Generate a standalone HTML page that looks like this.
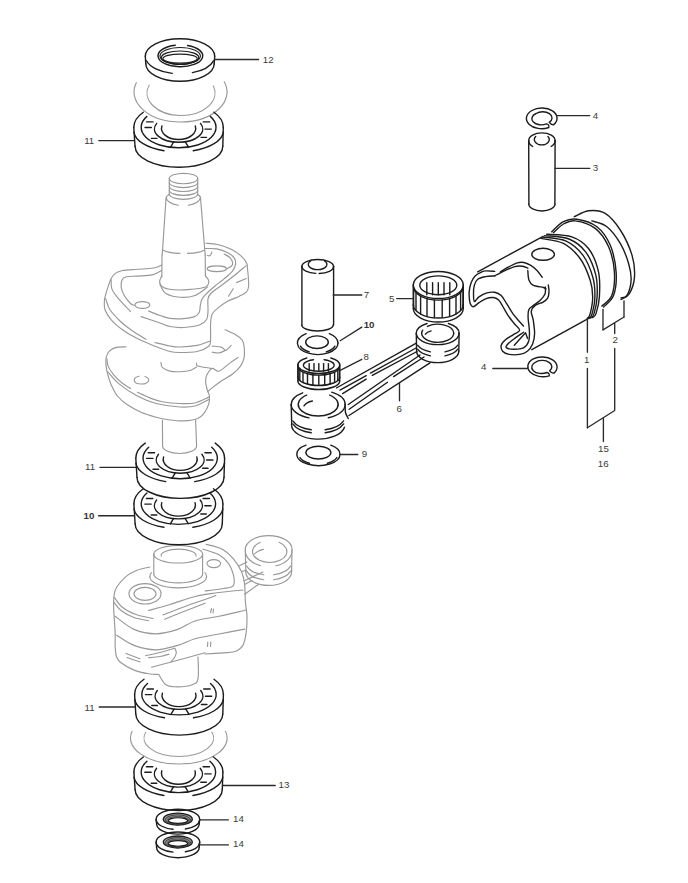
<!DOCTYPE html>
<html><head><meta charset="utf-8"><style>
html,body{margin:0;padding:0;background:#fff;}
svg{display:block;}
text{font-family:"Liberation Sans",sans-serif;}
</style></head><body>
<svg width="688" height="883" viewBox="0 0 688 883" fill="none" stroke-linecap="round" stroke-linejoin="round">
<rect width="688" height="883" fill="#fff"/>
<path d="M145.3 56.3A34.7 17.5 0 0 1 180 38.8A34.7 17.5 0 0 1 214.7 56.3" stroke="#1c1c1c" stroke-width="1.4"/>
<path d="M172.2 73.4A34.7 17.5 0 0 1 146.5 60.8" stroke="#1c1c1c" stroke-width="1.4"/>
<path d="M213.5 60.8A34.7 17.5 0 0 1 192.4 72.6" stroke="#1c1c1c" stroke-width="1.4"/>
<path d="M145.3 56.3L145.8 63.8" stroke="#1c1c1c" stroke-width="1.4"/>
<path d="M214.7 56.3L214.2 63.8" stroke="#1c1c1c" stroke-width="1.4"/>
<path d="M214.2 63.8A34.2 17.5 0 0 1 180 81.3A34.2 17.5 0 0 1 145.8 63.8" stroke="#1c1c1c" stroke-width="1.4"/>
<path d="M187.6 45.5A22.3 10.9 0 0 1 179.1 66.7A22.3 10.9 0 0 1 175.3 45.2" stroke="#1c1c1c" stroke-width="1.4"/>
<ellipse cx="180.2" cy="56" rx="20.2" ry="8.5" stroke="#1c1c1c" stroke-width="1.15"/>
<ellipse cx="180.1" cy="57.5" rx="18.7" ry="6.5" stroke="#1c1c1c" stroke-width="1.15"/>
<ellipse cx="180.1" cy="58.6" rx="17.2" ry="4.5" stroke="#1c1c1c" stroke-width="1.15"/>
<path d="M136.3 82.7A46.5 30 0 0 0 181.3 122A46.5 30 0 0 0 224.2 81.7" stroke="#989898" stroke-width="1.15"/>
<path d="M149.1 85.3A34 22.5 0 0 0 180.4 115.5A34 22.5 0 0 0 213.3 86" stroke="#989898" stroke-width="1.15"/>
<path d="M133.8 127.3A44.8 24.5 0 0 1 143.3 112.2" stroke="#1c1c1c" stroke-width="1.4"/>
<path d="M213.9 112.2A44.8 24.5 0 0 1 223.3 127.3" stroke="#1c1c1c" stroke-width="1.4"/>
<path d="M133.8 127.3L135 146.2" stroke="#1c1c1c" stroke-width="1.4"/>
<path d="M223.3 127.3L222.8 146.2" stroke="#1c1c1c" stroke-width="1.4"/>
<path d="M164 150.7A44.8 21 0 0 1 134 132.3" stroke="#1c1c1c" stroke-width="1.4"/>
<path d="M223.2 132.3A44.8 21 0 0 1 193.2 150.7" stroke="#1c1c1c" stroke-width="1.4"/>
<path d="M222.8 146.2A43.9 21 0 0 1 178.9 167.2A43.9 21 0 0 1 135.1 146.2" stroke="#1c1c1c" stroke-width="1.4"/>
<path d="M146.9 116.4A37.4 20.5 0 0 0 178.6 147.8A37.4 20.5 0 0 0 210.3 116.4" stroke="#1c1c1c" stroke-width="1.4"/>
<path d="M156.7 123.4A24.2 13.3 0 0 0 178.6 142.3A24.2 13.3 0 0 0 200.5 123.4" stroke="#1c1c1c" stroke-width="1.4"/>
<path d="M173.7 142L170.4 147.3" stroke="#1c1c1c" stroke-width="1.4"/>
<path d="M185.3 141.8L188.5 147.1" stroke="#1c1c1c" stroke-width="1.4"/>
<path d="M161.9 126A17.1 11.2 0 0 0 178.6 139.5A17.1 11.2 0 0 0 195.3 126" stroke="#1c1c1c" stroke-width="1.4"/>
<path d="M146.6 121.9L153 121.9" stroke="#1c1c1c" stroke-width="1.4"/>
<path d="M145 127.5L151.4 127.5" stroke="#1c1c1c" stroke-width="1.4"/>
<path d="M151.4 138.4L157 138.4" stroke="#1c1c1c" stroke-width="1.4"/>
<path d="M203.3 121.9L209.7 121.9" stroke="#1c1c1c" stroke-width="1.4"/>
<path d="M205 129.1L211.3 129.1" stroke="#1c1c1c" stroke-width="1.4"/>
<path d="M201 137.4L206.5 137.4" stroke="#1c1c1c" stroke-width="1.4"/>
<path d="M161.7 265C160.3 265.5 157.6 267.3 153.6 268C149.6 268.7 142.6 268.9 137.4 269.3C132.2 269.7 126.1 269.8 122.4 270.5C118.7 271.2 116.9 272.2 115 273.6C113.1 275 112.2 276.7 111.2 278.6C110.2 280.5 109.6 282.2 108.7 284.9C107.8 287.6 106.3 292.1 105.6 294.8C104.9 297.5 104.5 298.5 104.4 301C104.3 303.5 103.9 306.7 105 309.8C106.1 312.9 108.3 316.5 111.2 319.8C114.1 323.1 118 326.6 122.4 329.7C126.8 332.8 132 335.9 137.4 338.6C142.8 341.4 149.4 344.1 154.8 346.2C160.2 348.3 165.8 350.4 170 351.5C174.2 352.6 175.5 352.5 180 352.5C184.5 352.5 192.5 352.4 197.2 351.5C201.9 350.6 205.8 348.6 208 346.8C210.2 345.1 210.1 344.9 210.5 341C210.9 337.1 210.3 327.9 210.6 323.4C210.9 318.9 211 316.4 212.2 313.9C213.4 311.4 215.1 310.4 217.6 308.4C220.1 306.3 223.5 303.6 227.1 301.6C230.7 299.6 236.2 297.8 239.4 296.2C242.6 294.6 244.7 293.7 246.2 292.1C247.7 290.5 248.3 289.4 248.6 286.7C248.9 284 248.4 278.8 248.2 275.8C248 272.9 247.7 271 247.5 269C247.3 267 247.7 265.6 246.8 263.6C245.9 261.6 244.6 259.2 242 256.8C239.4 254.4 235.3 251.4 231.2 249.3C227.1 247.2 221.8 245.5 217.6 244.5C213.4 243.5 207.9 243.4 206 243.2" stroke="#989898" stroke-width="1.15"/>
<path d="M105.6 298.6C106.3 300.5 107.6 306.1 110 309.8C112.4 313.5 116.5 317.6 120 321C123.5 324.4 126.8 326.9 131.2 330C135.5 333.1 143.6 337.8 146.1 339.3" stroke="#989898" stroke-width="1.15"/>
<path d="M154.8 342.5C157.3 343.1 165.8 345.2 170 346C174.2 346.8 175.5 347.1 180 347C184.5 346.9 192.3 346.3 197.2 345.4C202.1 344.4 207.4 342 209.4 341.3" stroke="#989898" stroke-width="1.15"/>
<path d="M161.7 270.5C160.1 271.2 156.4 274 152.3 274.9C148.2 275.8 141.8 275.8 137.4 276.1C133.1 276.4 128.8 276.2 126.2 276.8C123.6 277.4 122.8 278.1 122 279.9C121.2 281.7 120.9 284.9 121.2 287.4C121.5 289.9 122.5 292.3 124 295C125.5 297.7 128.8 301.8 130.5 303.5C132.2 305.2 133.8 305.2 134.5 305.5" stroke="#989898" stroke-width="1.15"/>
<path d="M148.6 311C150.5 311.8 156.4 314.3 160 315.5C163.6 316.7 166.1 317.9 170 318.4C173.9 318.9 179.5 318.9 183.6 318.6C187.7 318.3 191.9 317.6 194.5 316.6C197.1 315.6 198.2 314.4 199.2 312.5C200.2 310.6 199.9 307.2 200.4 305C200.9 302.8 201 300.9 202 299C203 297.1 204.1 296 206.3 293.8C208.5 291.6 212.1 288.4 215 286C217.9 283.6 220.9 281.6 223.8 279.1C226.7 276.6 230.5 273.7 232.5 271.2C234.5 268.7 235.3 266.4 235.6 264.2C235.9 262 235.5 260 234.3 258.1C233.1 256.2 231.1 254.4 228.2 252.9C225.3 251.4 220.6 249.6 216.8 248.9C213 248.2 207.4 248.6 205.5 248.5" stroke="#989898" stroke-width="1.15"/>
<path d="M111.2 279.9C111.3 281.3 110.8 285.7 111.8 288.6C112.8 291.5 114.3 293.5 117.4 297.3C120.5 301.1 128.3 309.2 130.5 311.6" stroke="#989898" stroke-width="1.15"/>
<path d="M141.1 316.6C144.2 317.7 155.2 321.4 160 323C164.8 324.6 166.1 325.8 170 326.5C173.9 327.2 178.6 327.8 183.6 327.5C188.6 327.2 196.1 326.2 199.9 324.8C203.8 323.4 205.3 321.6 206.7 319.3C208 317 207.8 314.6 208 311.2C208.2 307.8 207.5 301.9 208 299C208.5 296.1 208.5 295.8 210.8 293.5C213.1 291.2 217.8 288.2 221.7 285.3C225.5 282.4 229.8 279.1 233.9 275.8C238 272.5 244.1 267.3 246.2 265.6" stroke="#989898" stroke-width="1.15"/>
<ellipse cx="142.4" cy="305" rx="7.5" ry="3.4" stroke="#989898" stroke-width="1.15"/>
<ellipse cx="216.8" cy="268.8" rx="9.6" ry="2.9" stroke="#989898" stroke-width="1.15"/>
<path d="M224.2 254.1C225.1 254.7 228.5 256.2 229.9 257.6C231.3 259 232.2 261 232.5 262.4C232.8 263.8 232.6 264.9 231.6 266C230.6 267.1 227.3 268.5 226.4 269" stroke="#989898" stroke-width="1.15"/>
<path d="M207.3 255.4C207.7 255.5 208.8 256 209.5 255.8C210.2 255.6 210.9 254.6 211.3 254C211.7 253.4 211.7 252.3 211.8 252" stroke="#989898" stroke-width="1.15"/>
<path d="M236.6 282.6L246.2 278.5" stroke="#989898" stroke-width="1.15"/>
<path d="M228.5 296.2L233.2 288.7" stroke="#989898" stroke-width="1.15"/>
<path d="M161.7 276C161.3 277 159.3 280.1 159.6 282C159.9 283.9 161.1 286.1 163.6 287.4C166.1 288.7 170.3 289.5 174.8 289.8C179.3 290.1 185.3 289.9 190.4 289.4C195.5 288.9 202.3 288.4 205.4 287C208.5 285.6 208.8 283.1 208.8 281.2C208.8 279.3 206 276.7 205.4 275.8" stroke="#989898" stroke-width="1.15"/>
<path d="M159.8 284C160.8 285.6 162.6 291.4 166 293.6C169.4 295.8 175.2 297 180 297.3C184.8 297.6 190.4 297.2 195 295.5C199.6 293.8 205.3 288.4 207.4 287" stroke="#989898" stroke-width="1.15"/>
<path d="M126.2 346.8C124.5 346.9 119 346.7 116.2 347.4C113.4 348.1 111 349.5 109.3 351.2C107.6 352.9 106.8 355.1 106.2 357.4C105.7 359.7 105.8 362.2 106 364.9C106.2 367.6 106.6 370.3 107.5 373.6C108.4 376.9 109.5 381.1 111.2 384.8C112.9 388.5 114.7 392.7 117.4 396C120.1 399.3 123.5 402.1 127.4 404.8C131.3 407.5 136.3 410.1 141.1 412.2C145.9 414.3 151.5 415.9 156.1 417.2C160.7 418.4 163.9 419.1 168.5 419.7C173.1 420.3 178.8 421 183.6 420.9C188.4 420.8 193.8 420.1 197.2 418.8C200.6 417.6 202.1 415.9 204 413.4C205.9 410.9 207.9 406.8 208.8 403.9C209.7 400.9 209.6 398 209.4 395.7C209.2 393.4 208 392.6 207.4 390.3C206.8 388 205.7 384.6 205.6 382.1C205.5 379.6 205.6 377.6 206.7 375.3C207.8 373 210.1 369.2 212.2 368.5C214.2 367.8 216.1 372.1 219 371.2C221.9 370.3 226.6 365.4 229.8 363.1C233 360.8 236.6 358.5 238 357.6" stroke="#989898" stroke-width="1.15"/>
<path d="M212.2 368.5C210.8 368.3 206.5 367.6 204 367.2C201.5 366.8 198.4 366.5 197.2 365.8C195.9 365.1 196.6 363.6 196.5 363.1" stroke="#989898" stroke-width="1.15"/>
<path d="M225.1 329.8C226.8 330.6 232.5 332.8 235.3 334.5C238.1 336.2 240.6 337.9 242.1 340C243.6 342.1 243.8 343.9 244.1 346.8C244.4 349.7 244.7 354.4 244.1 357.6C243.5 360.8 242.6 363.1 240.7 365.8C238.8 368.5 235.8 371.5 232.6 374C229.4 376.5 225.3 378.3 221.7 380.8C218.1 383.3 213.1 387.1 210.8 388.9C208.5 390.7 208.5 391.2 208 391.6" stroke="#989898" stroke-width="1.15"/>
<path d="M161 362.4C161.2 363.2 160.8 365.9 162.3 367.4C163.8 368.8 166.9 370.4 169.8 371.1C172.8 371.8 176.6 371.8 180 371.7C183.4 371.6 187.2 371.3 190 370.5C192.8 369.7 195.4 367.6 196.5 367" stroke="#989898" stroke-width="1.15"/>
<path d="M137.4 392.3C139.5 393.2 145.7 396.3 149.8 397.9C154 399.5 157.3 400.8 162.3 401.7C167.3 402.6 174.6 403.3 180 403.5C185.4 403.7 190.2 404.1 195 403C199.8 401.9 206.5 398.1 208.8 397.1" stroke="#989898" stroke-width="1.15"/>
<path d="M108 372C109.8 373.9 113.8 379.6 118.7 383.6C123.6 387.6 131.2 392.7 137.4 396C143.6 399.3 149 401.7 156.1 403.5C163.2 405.3 173.5 406.6 180 407C186.5 407.4 190.2 407.2 195 406C199.8 404.8 206.5 400.6 208.8 399.5" stroke="#989898" stroke-width="1.15"/>
<path d="M106.9 358.7C107.1 359.9 107 363.4 108.1 366.1C109.2 368.8 111.5 372.2 113.7 374.9C115.9 377.6 118.4 380 121.2 382.3C124 384.6 128.9 387.6 130.5 388.6" stroke="#989898" stroke-width="1.15"/>
<path d="M145 376.5A7 4 0 0 1 140.9 384A7 4 0 0 1 139.1 376.2" stroke="#989898" stroke-width="1.15"/>
<path d="M212.2 346.1C213.8 346.3 219.4 346.7 221.7 347.4C224 348.1 224.2 350.5 225.8 350.2C227.4 349.9 230.3 346.2 231.2 345.4" stroke="#989898" stroke-width="1.15"/>
<path d="M212.2 352.2C213.3 352.3 216.7 353.2 219 352.9C221.3 352.6 224.7 350.6 225.8 350.2" stroke="#989898" stroke-width="1.15"/>
<path d="M162.4 420L162.6 446" stroke="#989898" stroke-width="1.15"/>
<path d="M195.6 420L196.6 446" stroke="#989898" stroke-width="1.15"/>
<path d="M196.6 446A17 7.5 0 0 1 179.6 453.5A17 7.5 0 0 1 162.6 446" stroke="#989898" stroke-width="1.15"/>
<ellipse cx="178.2" cy="554.2" rx="24.4" ry="8.8" stroke="#989898" stroke-width="1.15"/>
<path d="M161.2 556.1A17.5 6.4 0 0 1 178.6 549.1A17.5 6.4 0 0 1 196 556.1" stroke="#989898" stroke-width="1.15"/>
<path d="M153.8 554.2L153.8 574" stroke="#989898" stroke-width="1.15"/>
<path d="M202.6 554.2L202.6 574" stroke="#989898" stroke-width="1.15"/>
<path d="M202.6 574A24.4 8.8 0 0 1 178.2 582.8A24.4 8.8 0 0 1 153.8 574" stroke="#989898" stroke-width="1.15"/>
<path d="M206.6 576.5A28.4 11.3 0 0 1 178.2 587.8A28.4 11.3 0 0 1 149.8 576.5" stroke="#989898" stroke-width="1.15"/>
<path d="M149.8 576.5A28.4 11.3 0 0 1 151.5 572.6" stroke="#989898" stroke-width="1.15"/>
<path d="M204.9 572.6A28.4 11.3 0 0 1 206.6 576.5" stroke="#989898" stroke-width="1.15"/>
<path d="M149.8 567C147.7 567.5 141 568.6 137 570.2C133 571.8 129.2 573.8 125.8 576.6C122.4 579.5 118.6 584.1 116.6 587.3C114.6 590.5 114.5 592.4 114 596C113.5 599.6 113.6 604.9 113.7 609C113.8 613.1 114.2 616.3 114.4 620.7C114.7 625.1 115.1 630.8 115.2 635.2C115.3 639.6 115 643.3 115.2 646.9C115.4 650.5 115.6 654.4 116.6 657C117.6 659.6 118.1 660.6 121 662.8C123.9 665 129.4 668.3 134 670.1C138.6 671.9 144.5 673.1 148.6 673.8C152.7 674.5 157.1 674.4 158.8 674.5" stroke="#989898" stroke-width="1.15"/>
<path d="M206.2 544.4C208.9 545.2 217.7 546.8 222.2 549.2C226.7 551.6 230.2 555.1 233.4 558.8C236.6 562.5 239.5 567.3 241.4 571.6C243.3 575.9 243.9 579.3 244.6 584.4C245.3 589.5 245 596.7 245.4 602C245.8 607.3 246.9 611.2 247 616.3C247.1 621.3 246.9 627.5 246.2 632.3C245.5 637.1 244.9 641.9 243 645.1C241.1 648.3 239 650.2 235 651.5C231 652.8 224 652.7 219 653.1C214 653.5 207.3 653.9 205 654" stroke="#989898" stroke-width="1.15"/>
<path d="M203 549.2C205.7 550.1 214.7 552.4 219 554.8C223.3 557.2 226.2 560.3 228.6 563.6C231 566.9 232.5 571.6 233.4 574.8C234.3 578 234.5 580.8 234.2 582.8C233.9 584.8 234.3 585.7 231.8 586.8C229.3 587.9 223.5 588.5 219 589.2C214.5 589.9 207.3 590.7 205 591" stroke="#989898" stroke-width="1.15"/>
<ellipse cx="213.8" cy="563.6" rx="6.8" ry="4" stroke="#989898" stroke-width="1.15"/>
<ellipse cx="145" cy="593.8" rx="16" ry="10.2" stroke="#989898" stroke-width="1.15"/>
<ellipse cx="145" cy="593.8" rx="11" ry="6.5" stroke="#989898" stroke-width="1.15"/>
<path d="M114.4 597.4C115.7 599 118.4 604.1 122 607C125.6 609.9 130.8 612.6 136 614.5C141.2 616.4 150.2 617.8 153 618.5" stroke="#989898" stroke-width="1.15"/>
<path d="M113.7 601.8C114.9 603.2 117.6 607.9 121 610.5C124.4 613.1 129.4 615.8 134 617.5C138.6 619.2 146.2 620.2 148.6 620.7" stroke="#989898" stroke-width="1.15"/>
<path d="M148.6 610.5C152.2 609.5 162.3 606.8 170 604.5C177.7 602.2 187.5 598.4 195 596.5C202.5 594.6 207 594.1 215 593C223 591.9 238.3 590.5 243 590" stroke="#989898" stroke-width="1.15"/>
<path d="M163.1 614.9C166.8 613.5 178 609.1 185 606.5C192 603.9 199.9 601.3 205 599.5C210.1 597.7 214 596.2 215.8 595.5" stroke="#989898" stroke-width="1.15"/>
<path d="M164.6 619.2C168 617.8 178.3 613.6 185 611C191.7 608.4 201.7 604.6 205 603.3" stroke="#989898" stroke-width="1.15"/>
<path d="M115.2 616.3C118.3 618.5 127.2 626.5 134 629.4C140.8 632.3 148.6 633.8 155.9 633.8C163.2 633.8 171.2 631.5 177.7 629.4C184.2 627.3 188.1 623.2 195 621C201.9 618.8 210.5 618.1 219 616.3C227.5 614.5 241.7 611 246.2 610" stroke="#989898" stroke-width="1.15"/>
<path d="M116.6 635.2C119.5 636.9 127.5 643 134 645.4C140.6 647.8 148.6 649.8 155.9 649.8C163.2 649.8 171.2 647.2 177.7 645.4C184.2 643.5 188.1 640.6 195 638.7C201.9 636.8 210.7 635.6 219 634C227.3 632.4 240.3 629.9 244.6 629.1" stroke="#989898" stroke-width="1.15"/>
<path d="M126 653.5L139.9 658.7" stroke="#989898" stroke-width="1.15"/>
<path d="M127 657.5L140 662" stroke="#989898" stroke-width="1.15"/>
<path d="M145.7 655.6C148.1 655.1 155.2 653.7 160 652.5C164.8 651.3 172.3 649 174.8 648.3" stroke="#989898" stroke-width="1.15"/>
<path d="M174.8 648.3C175.1 649 176.4 651 176.3 652.5C176.2 654 175.4 656 174.5 657.5C173.6 659 171.6 661.1 171 661.8" stroke="#989898" stroke-width="1.15"/>
<path d="M148.6 657.8C150.5 657.6 156.6 657.1 160 656.5C163.4 655.9 167.5 654.5 169 654.1" stroke="#989898" stroke-width="1.15"/>
<path d="M151.5 667.2C155.4 666.2 166.1 663.4 175 661C183.9 658.6 200 654.1 205 652.7" stroke="#989898" stroke-width="1.15"/>
<path d="M158.8 674.5C160 676.2 162.8 682.7 166 684.7C169.2 686.8 173.3 686.8 177.7 686.8C182.1 686.8 188.8 686 192.2 684.7C195.6 683.4 197 683.4 198 678.8C199 674.2 198 660.6 198 657" stroke="#989898" stroke-width="1.15"/>
<path d="M210.5 612.5L211.5 608.5" stroke="#989898" stroke-width="1.15"/>
<path d="M213 613L213.5 609" stroke="#989898" stroke-width="1.15"/>
<path d="M207.5 646.5L207.8 642" stroke="#989898" stroke-width="1.15"/>
<path d="M210.5 646.5L210.8 642" stroke="#989898" stroke-width="1.15"/>
<path d="M245.3 549.3A23.4 13.7 0 0 1 268.6 535.6A23.4 13.7 0 0 1 292 549.3" stroke="#989898" stroke-width="1.15"/>
<path d="M260.3 565.6A23.4 15.8 0 0 1 245.3 550.8" stroke="#989898" stroke-width="1.15"/>
<path d="M292 550.8A23.4 15.8 0 0 1 275.9 565.8" stroke="#989898" stroke-width="1.15"/>
<path d="M279.1 542.3A17.2 11 0 0 1 269.7 562.5A17.2 11 0 0 1 260.3 542.3" stroke="#989898" stroke-width="1.15"/>
<path d="M254.4 553.9C255.1 553.4 257 551.8 258.5 551C260 550.2 262.8 549.6 263.6 549.3" stroke="#989898" stroke-width="1.15"/>
<path d="M245.3 549.3L245.8 571.7" stroke="#989898" stroke-width="1.15"/>
<path d="M292 549.3L291.6 571.7" stroke="#989898" stroke-width="1.15"/>
<path d="M291.6 571.7A23 13.7 0 0 1 268.6 585.4A23 13.7 0 0 1 245.7 571.7" stroke="#989898" stroke-width="1.15"/>
<path d="M263.8 574.8A23.4 13.7 0 0 1 246.7 566.1" stroke="#989898" stroke-width="1.15"/>
<path d="M290.6 566.1A23.4 13.7 0 0 1 273.5 574.8" stroke="#989898" stroke-width="1.15"/>
<path d="M263.8 579.8A23.4 13.7 0 0 1 246.7 571.1" stroke="#989898" stroke-width="1.15"/>
<path d="M290.6 571.1A23.4 13.7 0 0 1 273.5 579.8" stroke="#989898" stroke-width="1.15"/>
<path d="M239.5 565.8L246.9 561.9" stroke="#989898" stroke-width="1.15"/>
<path d="M241.7 571.5L246.5 570.2" stroke="#989898" stroke-width="1.15"/>
<path d="M244.3 580.7L263 572" stroke="#989898" stroke-width="1.15"/>
<path d="M244.5 584.5L252 580.5" stroke="#989898" stroke-width="1.15"/>
<path d="M244.7 594.2L258.7 584.2" stroke="#989898" stroke-width="1.15"/>
<ellipse cx="183.5" cy="178.5" rx="14.2" ry="5.2" stroke="#989898" stroke-width="1.15"/>
<path d="M197.7 182.4A14.2 5.2 0 0 1 183.5 187.6A14.2 5.2 0 0 1 169.3 182.4" stroke="#989898" stroke-width="1.15"/>
<path d="M197.7 186.3A14.2 5.2 0 0 1 183.5 191.5A14.2 5.2 0 0 1 169.3 186.3" stroke="#989898" stroke-width="1.15"/>
<path d="M197.7 190.2A14.2 5.2 0 0 1 183.5 195.4A14.2 5.2 0 0 1 169.3 190.2" stroke="#989898" stroke-width="1.15"/>
<path d="M197.7 194.1A14.2 5.2 0 0 1 183.5 199.3A14.2 5.2 0 0 1 169.3 194.1" stroke="#989898" stroke-width="1.15"/>
<path d="M169.3 178.5L169.3 194.4" stroke="#989898" stroke-width="1.15"/>
<path d="M197.7 178.5L197.7 194.4" stroke="#989898" stroke-width="1.15"/>
<path d="M169.3 194.4C168.9 194.8 167.2 195.8 166.6 196.6C166 197.4 166.1 198.6 166 199" stroke="#989898" stroke-width="1.15"/>
<path d="M197.7 194.4C198.1 194.8 199.7 195.8 200.2 196.6C200.7 197.4 200.5 198.6 200.6 199" stroke="#989898" stroke-width="1.15"/>
<path d="M166 199L162.2 255" stroke="#989898" stroke-width="1.15"/>
<path d="M200.6 199L205.2 255" stroke="#989898" stroke-width="1.15"/>
<path d="M166.3 197.5A17 8.2 0 0 0 178.3 205.3" stroke="#989898" stroke-width="1.15"/>
<path d="M188.3 205.3A17 8.2 0 0 0 200.3 197.5" stroke="#989898" stroke-width="1.15"/>
<path d="M162 255L161.8 277" stroke="#989898" stroke-width="1.15"/>
<path d="M205.2 255L205.4 276" stroke="#989898" stroke-width="1.15"/>
<path d="M204.1 250.2A21.7 5 0 0 1 187.5 253.4" stroke="#989898" stroke-width="1.15"/>
<path d="M179.9 253.4A21.7 5 0 0 1 163.3 250.2" stroke="#989898" stroke-width="1.15"/>
<path d="M135.8 458.2A44.4 24.5 0 0 1 145.2 443.1" stroke="#1c1c1c" stroke-width="1.4"/>
<path d="M215.2 443.1A44.4 24.5 0 0 1 224.6 458.2" stroke="#1c1c1c" stroke-width="1.4"/>
<path d="M135.8 458.2L137 477.4" stroke="#1c1c1c" stroke-width="1.4"/>
<path d="M224.6 458.2L224 477.4" stroke="#1c1c1c" stroke-width="1.4"/>
<path d="M165.7 481.6A44.4 21 0 0 1 135.9 463.2" stroke="#1c1c1c" stroke-width="1.4"/>
<path d="M224.5 463.2A44.4 21 0 0 1 194.7 481.6" stroke="#1c1c1c" stroke-width="1.4"/>
<path d="M224 477.4A43.5 21 0 0 1 180.5 498.4A43.5 21 0 0 1 137 477.4" stroke="#1c1c1c" stroke-width="1.4"/>
<path d="M148.7 447.3A37.1 20.5 0 0 0 180.2 478.7A37.1 20.5 0 0 0 211.7 447.3" stroke="#1c1c1c" stroke-width="1.4"/>
<path d="M158.5 454.3A24 13.3 0 0 0 180.2 473.2A24 13.3 0 0 0 201.9 454.3" stroke="#1c1c1c" stroke-width="1.4"/>
<path d="M175.3 472.9L172.1 478.2" stroke="#1c1c1c" stroke-width="1.4"/>
<path d="M186.9 472.7L190.1 478" stroke="#1c1c1c" stroke-width="1.4"/>
<path d="M163.6 456.9A17 11.2 0 0 0 180.2 470.4A17 11.2 0 0 0 196.8 456.9" stroke="#1c1c1c" stroke-width="1.4"/>
<path d="M148.2 452.8L154.6 452.8" stroke="#1c1c1c" stroke-width="1.4"/>
<path d="M146.6 458.4L153 458.4" stroke="#1c1c1c" stroke-width="1.4"/>
<path d="M153 469.3L158.6 469.3" stroke="#1c1c1c" stroke-width="1.4"/>
<path d="M204.9 452.8L211.3 452.8" stroke="#1c1c1c" stroke-width="1.4"/>
<path d="M206.6 460L212.9 460" stroke="#1c1c1c" stroke-width="1.4"/>
<path d="M202.6 468.3L208.1 468.3" stroke="#1c1c1c" stroke-width="1.4"/>
<path d="M133.9 503.9A44.5 24.5 0 0 1 143.3 488.8" stroke="#1c1c1c" stroke-width="1.4"/>
<path d="M213.5 488.8A44.5 24.5 0 0 1 222.9 503.9" stroke="#1c1c1c" stroke-width="1.4"/>
<path d="M133.9 503.9L135.1 523.8" stroke="#1c1c1c" stroke-width="1.4"/>
<path d="M222.9 503.9L222.3 523.8" stroke="#1c1c1c" stroke-width="1.4"/>
<path d="M163.9 527.3A44.5 21 0 0 1 134 508.9" stroke="#1c1c1c" stroke-width="1.4"/>
<path d="M222.8 508.9A44.5 21 0 0 1 192.9 527.3" stroke="#1c1c1c" stroke-width="1.4"/>
<path d="M222.3 523.8A43.6 21 0 0 1 178.7 544.8A43.6 21 0 0 1 135.1 523.8" stroke="#1c1c1c" stroke-width="1.4"/>
<path d="M146.9 493A37.2 20.5 0 0 0 178.4 524.4A37.2 20.5 0 0 0 209.9 493" stroke="#1c1c1c" stroke-width="1.4"/>
<path d="M156.6 500A24 13.3 0 0 0 178.4 518.9A24 13.3 0 0 0 200.2 500" stroke="#1c1c1c" stroke-width="1.4"/>
<path d="M173.5 518.6L170.3 523.9" stroke="#1c1c1c" stroke-width="1.4"/>
<path d="M185.1 518.4L188.3 523.7" stroke="#1c1c1c" stroke-width="1.4"/>
<path d="M161.8 502.6A17 11.2 0 0 0 178.4 516.1A17 11.2 0 0 0 195 502.6" stroke="#1c1c1c" stroke-width="1.4"/>
<path d="M146.4 498.5L152.8 498.5" stroke="#1c1c1c" stroke-width="1.4"/>
<path d="M144.8 504.1L151.2 504.1" stroke="#1c1c1c" stroke-width="1.4"/>
<path d="M151.2 515L156.8 515" stroke="#1c1c1c" stroke-width="1.4"/>
<path d="M203.1 498.5L209.5 498.5" stroke="#1c1c1c" stroke-width="1.4"/>
<path d="M204.8 505.7L211.1 505.7" stroke="#1c1c1c" stroke-width="1.4"/>
<path d="M200.8 514L206.3 514" stroke="#1c1c1c" stroke-width="1.4"/>
<path d="M134.6 694.4A44.4 24.5 0 0 1 144 679.3" stroke="#1c1c1c" stroke-width="1.4"/>
<path d="M214 679.3A44.4 24.5 0 0 1 223.4 694.4" stroke="#1c1c1c" stroke-width="1.4"/>
<path d="M134.6 694.4L135.8 714.1" stroke="#1c1c1c" stroke-width="1.4"/>
<path d="M223.4 694.4L222.8 714.1" stroke="#1c1c1c" stroke-width="1.4"/>
<path d="M164.5 717.8A44.4 21 0 0 1 134.7 699.4" stroke="#1c1c1c" stroke-width="1.4"/>
<path d="M223.3 699.4A44.4 21 0 0 1 193.5 717.8" stroke="#1c1c1c" stroke-width="1.4"/>
<path d="M222.8 714.1A43.5 21 0 0 1 179.3 735.1A43.5 21 0 0 1 135.8 714.1" stroke="#1c1c1c" stroke-width="1.4"/>
<path d="M147.5 683.5A37.1 20.5 0 0 0 179 714.9A37.1 20.5 0 0 0 210.5 683.5" stroke="#1c1c1c" stroke-width="1.4"/>
<path d="M157.3 690.5A24 13.3 0 0 0 179 709.4A24 13.3 0 0 0 200.7 690.5" stroke="#1c1c1c" stroke-width="1.4"/>
<path d="M174.1 709.1L170.9 714.4" stroke="#1c1c1c" stroke-width="1.4"/>
<path d="M185.7 708.9L188.9 714.2" stroke="#1c1c1c" stroke-width="1.4"/>
<path d="M162.4 693.1A17 11.2 0 0 0 179 706.6A17 11.2 0 0 0 195.6 693.1" stroke="#1c1c1c" stroke-width="1.4"/>
<path d="M147 689L153.4 689" stroke="#1c1c1c" stroke-width="1.4"/>
<path d="M145.4 694.6L151.8 694.6" stroke="#1c1c1c" stroke-width="1.4"/>
<path d="M151.8 705.5L157.4 705.5" stroke="#1c1c1c" stroke-width="1.4"/>
<path d="M203.7 689L210.1 689" stroke="#1c1c1c" stroke-width="1.4"/>
<path d="M205.4 696.2L211.7 696.2" stroke="#1c1c1c" stroke-width="1.4"/>
<path d="M201.4 704.5L206.9 704.5" stroke="#1c1c1c" stroke-width="1.4"/>
<path d="M132.1 731.3A48.3 26 0 0 0 178.8 764A48.3 26 0 0 0 225.5 731.3" stroke="#989898" stroke-width="1.15"/>
<path d="M145.7 732.3A34.8 18.5 0 0 0 178.8 756.5A34.8 18.5 0 0 0 211.9 732.3" stroke="#989898" stroke-width="1.15"/>
<path d="M133.9 772.1A44.5 24.5 0 0 1 143.3 757" stroke="#1c1c1c" stroke-width="1.4"/>
<path d="M213.5 757A44.5 24.5 0 0 1 222.9 772.1" stroke="#1c1c1c" stroke-width="1.4"/>
<path d="M133.9 772.1L135.1 789.6" stroke="#1c1c1c" stroke-width="1.4"/>
<path d="M222.9 772.1L222.3 789.6" stroke="#1c1c1c" stroke-width="1.4"/>
<path d="M163.9 795.5A44.5 21 0 0 1 134 777.1" stroke="#1c1c1c" stroke-width="1.4"/>
<path d="M222.8 777.1A44.5 21 0 0 1 192.9 795.5" stroke="#1c1c1c" stroke-width="1.4"/>
<path d="M222.3 789.6A43.6 21 0 0 1 178.7 810.6A43.6 21 0 0 1 135.1 789.6" stroke="#1c1c1c" stroke-width="1.4"/>
<path d="M146.9 761.2A37.2 20.5 0 0 0 178.4 792.6A37.2 20.5 0 0 0 209.9 761.2" stroke="#1c1c1c" stroke-width="1.4"/>
<path d="M156.6 768.2A24 13.3 0 0 0 178.4 787.1A24 13.3 0 0 0 200.2 768.2" stroke="#1c1c1c" stroke-width="1.4"/>
<path d="M173.5 786.8L170.3 792.1" stroke="#1c1c1c" stroke-width="1.4"/>
<path d="M185.1 786.6L188.3 791.9" stroke="#1c1c1c" stroke-width="1.4"/>
<path d="M161.8 770.8A17 11.2 0 0 0 178.4 784.3A17 11.2 0 0 0 195 770.8" stroke="#1c1c1c" stroke-width="1.4"/>
<path d="M146.4 766.7L152.8 766.7" stroke="#1c1c1c" stroke-width="1.4"/>
<path d="M144.8 772.3L151.2 772.3" stroke="#1c1c1c" stroke-width="1.4"/>
<path d="M151.2 783.2L156.8 783.2" stroke="#1c1c1c" stroke-width="1.4"/>
<path d="M203.1 766.7L209.5 766.7" stroke="#1c1c1c" stroke-width="1.4"/>
<path d="M204.8 773.9L211.1 773.9" stroke="#1c1c1c" stroke-width="1.4"/>
<path d="M200.8 782.2L206.3 782.2" stroke="#1c1c1c" stroke-width="1.4"/>
<path d="M156.1 819.4A21.8 10.2 0 0 1 177.9 809.2A21.8 10.2 0 0 1 199.7 819.4" stroke="#1c1c1c" stroke-width="1.4"/>
<path d="M173 829.3A21.8 10.2 0 0 1 156.2 820.1" stroke="#1c1c1c" stroke-width="1.4"/>
<path d="M199.6 820.1A21.8 10.2 0 0 1 185.4 829" stroke="#1c1c1c" stroke-width="1.4"/>
<path d="M156.1 819.4L156.6 823.9" stroke="#1c1c1c" stroke-width="1.4"/>
<path d="M199.7 819.4L199.2 823.9" stroke="#1c1c1c" stroke-width="1.4"/>
<path d="M199.2 823.9A21.3 10.2 0 0 1 177.9 834.1A21.3 10.2 0 0 1 156.6 823.9" stroke="#1c1c1c" stroke-width="1.4"/>
<ellipse cx="177.8" cy="819.2" rx="14.5" ry="6" fill="#9c9c9c" stroke="#1c1c1c" stroke-width="1.3"/>
<ellipse cx="177.9" cy="819.8" rx="12.6" ry="4.9" fill="none" stroke="#333" stroke-width="0.9"/>
<ellipse cx="177.9" cy="820.2" rx="11" ry="3.8" fill="none" stroke="#444" stroke-width="0.8"/>
<ellipse cx="178" cy="820.6" rx="9.6" ry="2.8" fill="#fff" stroke="#1c1c1c" stroke-width="1.1"/>
<path d="M156.1 842.2A21.8 10.2 0 0 1 177.9 832A21.8 10.2 0 0 1 199.7 842.2" stroke="#1c1c1c" stroke-width="1.4"/>
<path d="M173 852.1A21.8 10.2 0 0 1 156.2 842.9" stroke="#1c1c1c" stroke-width="1.4"/>
<path d="M199.6 842.9A21.8 10.2 0 0 1 185.4 851.8" stroke="#1c1c1c" stroke-width="1.4"/>
<path d="M156.1 842.2L156.6 847.5" stroke="#1c1c1c" stroke-width="1.4"/>
<path d="M199.7 842.2L199.2 847.5" stroke="#1c1c1c" stroke-width="1.4"/>
<path d="M199.2 847.5A21.3 10.2 0 0 1 177.9 857.7A21.3 10.2 0 0 1 156.6 847.5" stroke="#1c1c1c" stroke-width="1.4"/>
<ellipse cx="177.8" cy="842" rx="14.5" ry="6" fill="#9c9c9c" stroke="#1c1c1c" stroke-width="1.3"/>
<ellipse cx="177.9" cy="842.6" rx="12.6" ry="4.9" fill="none" stroke="#333" stroke-width="0.9"/>
<ellipse cx="177.9" cy="843" rx="11" ry="3.8" fill="none" stroke="#444" stroke-width="0.8"/>
<ellipse cx="178" cy="843.4" rx="9.6" ry="2.8" fill="#fff" stroke="#1c1c1c" stroke-width="1.1"/>
<path d="M548.8 127.5A15.2 10.3 0 0 1 531.9 110.5A15.2 10.3 0 0 1 553.5 124.9Q551 124.8 549.2 122.4A9.4 6.2 0 0 0 536.1 113.5A9.4 6.2 0 0 0 546.4 123.9Q549.4 124.5 548.8 127.5" stroke="#1c1c1c" stroke-width="1.4"/>
<path d="M528.7 140.8A13.2 7.9 0 0 1 541.9 132.9A13.2 7.9 0 0 1 555.1 140.8" stroke="#1c1c1c" stroke-width="1.4"/>
<path d="M532.7 146.5A13.2 7.9 0 0 1 528.7 140.8" stroke="#1c1c1c" stroke-width="1.4"/>
<path d="M555.1 140.8A13.2 7.9 0 0 1 551.1 146.5" stroke="#1c1c1c" stroke-width="1.4"/>
<path d="M535.7 136.6A7.4 5.3 0 0 0 541.8 144.9A7.4 5.3 0 0 0 547.9 136.6" stroke="#1c1c1c" stroke-width="1.4"/>
<path d="M528.7 140.8L528.9 204" stroke="#1c1c1c" stroke-width="1.4"/>
<path d="M555.1 140.8L554.9 204" stroke="#1c1c1c" stroke-width="1.4"/>
<path d="M555 204A13.1 7 0 0 1 541.9 211A13.1 7 0 0 1 528.8 204" stroke="#1c1c1c" stroke-width="1.4"/>
<path d="M301.8 266.5A15.8 7 0 0 1 317.7 259.5A15.8 7 0 0 1 333.6 266.5" stroke="#1c1c1c" stroke-width="1.4"/>
<path d="M333.6 266.5A15.8 7 0 0 1 319.1 273.5" stroke="#1c1c1c" stroke-width="1.4"/>
<path d="M315.8 273.4A15.8 7 0 0 1 301.8 266.5" stroke="#1c1c1c" stroke-width="1.4"/>
<path d="M310.7 260.9A9.3 5.2 0 0 0 317.6 269.6A9.3 5.2 0 0 0 324.5 260.9" stroke="#1c1c1c" stroke-width="1.4"/>
<path d="M301.9 266.5L301.9 325" stroke="#1c1c1c" stroke-width="1.4"/>
<path d="M333.6 266.5L333.6 325" stroke="#1c1c1c" stroke-width="1.4"/>
<path d="M333.2 325A15.7 6 0 0 1 317.5 331A15.7 6 0 0 1 301.8 325" stroke="#1c1c1c" stroke-width="1.4"/>
<path d="M338 343A20.3 11.5 0 0 1 308.3 353.2A20.3 11.5 0 0 1 306.1 333.6" stroke="#1c1c1c" stroke-width="1.4"/>
<path d="M329.3 333.6A20.3 11.5 0 0 1 338 343" stroke="#1c1c1c" stroke-width="1.4"/>
<ellipse cx="317" cy="342.2" rx="11.3" ry="6.3" stroke="#1c1c1c" stroke-width="1.4"/>
<path d="M309.2 351.9A18 9.6 0 0 1 300.5 346.2" stroke="#1c1c1c" stroke-width="1.4"/>
<path d="M334.9 346.2A18 9.6 0 0 1 326.2 351.9" stroke="#1c1c1c" stroke-width="1.4"/>
<path d="M297.9 365A20.9 8.5 0 0 1 306.8 358" stroke="#1c1c1c" stroke-width="1.4"/>
<path d="M330.8 358A20.9 8.5 0 0 1 339.7 365" stroke="#1c1c1c" stroke-width="1.4"/>
<path d="M339.7 365A20.9 8.5 0 0 1 318.8 373.5A20.9 8.5 0 0 1 297.9 365" stroke="#1c1c1c" stroke-width="1.4"/>
<path d="M304.3 363.3A15.5 5.9 0 0 1 313.5 359.7" stroke="#1c1c1c" stroke-width="1.4"/>
<path d="M324.1 359.7A15.5 5.9 0 0 1 333.3 363.3" stroke="#1c1c1c" stroke-width="1.4"/>
<path d="M333.3 363.3A15.5 5.9 0 0 1 318.8 371.2A15.5 5.9 0 0 1 304.3 363.3" stroke="#1c1c1c" stroke-width="1.4"/>
<path d="M309.2 363.6L309.2 371.1" stroke="#1c1c1c" stroke-width="1.4"/>
<path d="M314 363.6L314 371.1" stroke="#1c1c1c" stroke-width="1.4"/>
<path d="M318.8 363.6L318.8 371.1" stroke="#1c1c1c" stroke-width="1.4"/>
<path d="M323.6 363.6L323.6 371.1" stroke="#1c1c1c" stroke-width="1.4"/>
<path d="M328.4 363.6L328.4 371.1" stroke="#1c1c1c" stroke-width="1.4"/>
<path d="M297.9 365L297.9 381" stroke="#1c1c1c" stroke-width="1.4"/>
<path d="M339.7 365L339.7 381" stroke="#1c1c1c" stroke-width="1.4"/>
<path d="M339.7 366.6A20.9 8.5 0 0 1 318.8 375.1A20.9 8.5 0 0 1 297.9 366.6" stroke="#1c1c1c" stroke-width="1.4"/>
<path d="M339.7 377A20.9 8.5 0 0 1 318.8 385.5A20.9 8.5 0 0 1 297.9 377" stroke="#1c1c1c" stroke-width="1.4"/>
<path d="M339.7 381A20.9 8.5 0 0 1 318.8 389.5A20.9 8.5 0 0 1 297.9 381" stroke="#1c1c1c" stroke-width="1.4"/>
<path d="M298.1 368.2L298.1 377.9" stroke="#1c1c1c" stroke-width="1.4"/>
<path d="M299.8 370.5L299.8 380.2" stroke="#1c1c1c" stroke-width="1.4"/>
<path d="M303 372.6L303 382.3" stroke="#1c1c1c" stroke-width="1.4"/>
<path d="M307.5 374.2L307.5 383.9" stroke="#1c1c1c" stroke-width="1.4"/>
<path d="M312.9 375.2L312.9 384.9" stroke="#1c1c1c" stroke-width="1.4"/>
<path d="M318.8 375.5L318.8 385.2" stroke="#1c1c1c" stroke-width="1.4"/>
<path d="M324.7 375.2L324.7 384.9" stroke="#1c1c1c" stroke-width="1.4"/>
<path d="M330.1 374.2L330.1 383.9" stroke="#1c1c1c" stroke-width="1.4"/>
<path d="M334.6 372.6L334.6 382.3" stroke="#1c1c1c" stroke-width="1.4"/>
<path d="M337.8 370.5L337.8 380.2" stroke="#1c1c1c" stroke-width="1.4"/>
<path d="M339.5 368.2L339.5 377.9" stroke="#1c1c1c" stroke-width="1.4"/>
<path d="M291.2 404.5A27 14.3 0 0 1 302.7 392.8" stroke="#1c1c1c" stroke-width="1.4"/>
<path d="M331.7 392.1A27 14.3 0 0 1 345.2 404.5" stroke="#1c1c1c" stroke-width="1.4"/>
<path d="M309 417.9A27 14.3 0 0 1 291.2 404.5" stroke="#1c1c1c" stroke-width="1.4"/>
<path d="M345.2 404.5A27 14.3 0 0 1 328.3 417.8" stroke="#1c1c1c" stroke-width="1.4"/>
<path d="M329.7 395.1A20.1 11.5 0 0 1 318.2 416A20.1 11.5 0 0 1 306.7 395.1" stroke="#1c1c1c" stroke-width="1.4"/>
<path d="M304 405.8A14 8 0 0 1 312.4 401" stroke="#1c1c1c" stroke-width="1.4"/>
<path d="M291.2 404.5L291.7 424.8" stroke="#1c1c1c" stroke-width="1.4"/>
<path d="M344.5 427.3A26.7 14.3 0 0 1 291.5 424.8" stroke="#1c1c1c" stroke-width="1.4"/>
<path d="M311.2 429.8A27 14.3 0 0 1 292.8 420.9" stroke="#1c1c1c" stroke-width="1.4"/>
<path d="M311.2 432.8A27 14.3 0 0 1 292.8 423.9" stroke="#1c1c1c" stroke-width="1.4"/>
<path d="M343.6 420.9A27 14.3 0 0 1 325.2 429.8" stroke="#1c1c1c" stroke-width="1.4"/>
<path d="M343.6 423.9A27 14.3 0 0 1 325.2 432.8" stroke="#1c1c1c" stroke-width="1.4"/>
<path d="M345.2 404.5C345.2 405.8 345 410.2 345.5 412.5C346 414.8 347.8 417.5 348.2 418.5" stroke="#1c1c1c" stroke-width="1.4"/>
<path d="M416.3 333.3A21.4 11.3 0 0 1 427 323.5" stroke="#1c1c1c" stroke-width="1.4"/>
<path d="M448.4 323.5A21.4 11.3 0 0 1 459.1 333.3" stroke="#1c1c1c" stroke-width="1.4"/>
<path d="M459.1 333.3A21.4 11.3 0 0 1 437.7 344.6A21.4 11.3 0 0 1 416.3 333.3" stroke="#1c1c1c" stroke-width="1.4"/>
<path d="M453.7 333.3A16 9 0 0 1 434.9 342.2A16 9 0 0 1 422.7 330.2" stroke="#1c1c1c" stroke-width="1.4"/>
<path d="M427.4 326.4A16 9 0 0 1 453.7 333.3" stroke="#1c1c1c" stroke-width="1.4"/>
<path d="M425.4 334.2A11 6 0 0 1 431.1 330.9" stroke="#1c1c1c" stroke-width="1.4"/>
<path d="M416.3 333.3L416.6 351.3" stroke="#1c1c1c" stroke-width="1.4"/>
<path d="M459.1 333.3L458.8 351.3" stroke="#1c1c1c" stroke-width="1.4"/>
<path d="M458.8 351.3A21.1 11.3 0 0 1 437.7 362.6A21.1 11.3 0 0 1 416.6 351.3" stroke="#1c1c1c" stroke-width="1.4"/>
<path d="M457.8 345.2A21.4 11.3 0 0 1 445 351.9" stroke="#1c1c1c" stroke-width="1.4"/>
<path d="M430.4 351.9A21.4 11.3 0 0 1 417.6 345.2" stroke="#1c1c1c" stroke-width="1.4"/>
<path d="M457.8 349.2A21.4 11.3 0 0 1 445 355.9" stroke="#1c1c1c" stroke-width="1.4"/>
<path d="M430.4 355.9A21.4 11.3 0 0 1 417.6 349.2" stroke="#1c1c1c" stroke-width="1.4"/>
<path d="M336.4 388L416.3 343.2" stroke="#1c1c1c" stroke-width="1.4"/>
<path d="M340 390.1L366.2 375.7" stroke="#1c1c1c" stroke-width="1.4"/>
<path d="M370.5 373.1L416 348" stroke="#1c1c1c" stroke-width="1.4"/>
<path d="M342.6 393.6L366.2 379.2" stroke="#1c1c1c" stroke-width="1.4"/>
<path d="M372.3 375.3L417 351.5" stroke="#1c1c1c" stroke-width="1.4"/>
<path d="M348.3 404.5L420 355" stroke="#1c1c1c" stroke-width="1.4"/>
<path d="M349.2 409.3L387.5 382.3" stroke="#1c1c1c" stroke-width="1.4"/>
<path d="M393.6 376.6L424 357" stroke="#1c1c1c" stroke-width="1.4"/>
<path d="M349 415.5L430 362.8" stroke="#1c1c1c" stroke-width="1.4"/>
<path d="M413.3 285A25 13.5 0 0 1 438.3 271.5A25 13.5 0 0 1 463.3 285" stroke="#1c1c1c" stroke-width="1.4"/>
<path d="M463.3 285A25 13.5 0 0 1 438.3 298.5A25 13.5 0 0 1 413.3 285" stroke="#1c1c1c" stroke-width="1.4"/>
<ellipse cx="438.3" cy="285.3" rx="18.5" ry="9.4" stroke="#1c1c1c" stroke-width="1.4"/>
<path d="M426.8 282.7L426.8 294.7" stroke="#1c1c1c" stroke-width="1.4"/>
<path d="M432.6 282.7L432.6 294.7" stroke="#1c1c1c" stroke-width="1.4"/>
<path d="M438.3 282.7L438.3 294.7" stroke="#1c1c1c" stroke-width="1.4"/>
<path d="M444 282.7L444 294.7" stroke="#1c1c1c" stroke-width="1.4"/>
<path d="M449.8 282.7L449.8 294.7" stroke="#1c1c1c" stroke-width="1.4"/>
<path d="M413.3 285L413.3 308.5" stroke="#1c1c1c" stroke-width="1.4"/>
<path d="M463.3 285L463.3 308.5" stroke="#1c1c1c" stroke-width="1.4"/>
<path d="M463.3 286.6A25 13.5 0 0 1 438.3 300.1A25 13.5 0 0 1 413.3 286.6" stroke="#1c1c1c" stroke-width="1.4"/>
<path d="M463.3 304.5A25 13.5 0 0 1 438.3 318A25 13.5 0 0 1 413.3 304.5" stroke="#1c1c1c" stroke-width="1.4"/>
<path d="M463.3 308.5A25 13.5 0 0 1 438.3 322A25 13.5 0 0 1 413.3 308.5" stroke="#1c1c1c" stroke-width="1.4"/>
<path d="M413.6 289.1L413.6 306.3" stroke="#1c1c1c" stroke-width="1.4"/>
<path d="M416 293.1L416 310.3" stroke="#1c1c1c" stroke-width="1.4"/>
<path d="M420.6 296.5L420.6 313.7" stroke="#1c1c1c" stroke-width="1.4"/>
<path d="M427 299L427 316.2" stroke="#1c1c1c" stroke-width="1.4"/>
<path d="M434.4 300.3L434.4 317.5" stroke="#1c1c1c" stroke-width="1.4"/>
<path d="M442.2 300.3L442.2 317.5" stroke="#1c1c1c" stroke-width="1.4"/>
<path d="M449.6 299L449.6 316.2" stroke="#1c1c1c" stroke-width="1.4"/>
<path d="M456 296.5L456 313.7" stroke="#1c1c1c" stroke-width="1.4"/>
<path d="M460.6 293.1L460.6 310.3" stroke="#1c1c1c" stroke-width="1.4"/>
<path d="M463 289.1L463 306.3" stroke="#1c1c1c" stroke-width="1.4"/>
<path d="M340 454.4A21.6 11.2 0 0 1 308.4 464.3A21.6 11.2 0 0 1 306 445.2" stroke="#1c1c1c" stroke-width="1.4"/>
<path d="M330.8 445.2A21.6 11.2 0 0 1 340 454.4" stroke="#1c1c1c" stroke-width="1.4"/>
<ellipse cx="318.4" cy="452.6" rx="12.5" ry="6.4" stroke="#1c1c1c" stroke-width="1.4"/>
<path d="M309.4 463.2A19.2 9.5 0 0 1 300 457.6" stroke="#1c1c1c" stroke-width="1.4"/>
<path d="M336.8 457.6A19.2 9.5 0 0 1 327.4 463.2" stroke="#1c1c1c" stroke-width="1.4"/>
<path d="M549.2 375.8A15 10.1 0 0 1 532.7 359.2A15 10.1 0 0 1 553.9 373.3Q551.4 373.3 549.6 370.9A9.7 6.4 0 0 0 536.1 361.8A9.7 6.4 0 0 0 546.8 372.5Q549.8 373.1 549.2 375.8" stroke="#1c1c1c" stroke-width="1.4"/>
<path d="M477.7 271.8L543.1 236.3" stroke="#1c1c1c" stroke-width="1.4"/>
<path d="M531.8 349.7L590 317.6" stroke="#1c1c1c" stroke-width="1.4"/>
<path d="M540.9 238.4C544.6 239.2 556.9 240.1 563.4 243.4C569.9 246.8 575.6 252.4 580.1 258.5C584.6 264.6 588.1 273.8 590.2 280.2C592.3 286.6 592.7 291.3 592.7 296.9C592.7 302.5 591.1 310 590.2 313.6C589.3 317.2 588 317.8 587.5 318.6" stroke="#1c1c1c" stroke-width="1.4"/>
<path d="M542.8 237C546.7 237.7 559.5 238.2 566.2 241.2C572.8 244.3 578.4 249.2 582.9 255.2C587.3 261.2 590.9 270.5 592.9 277.5C594.9 284.4 595 290.9 594.9 296.9C594.8 302.9 593.1 310 592.1 313.6C591.2 317.2 589.6 317.5 589.1 318.3" stroke="#1c1c1c" stroke-width="1.4"/>
<path d="M544.7 235.6C548.8 236.2 562.1 236.3 568.9 239C575.8 241.8 581.2 246 585.6 251.9C590.1 257.8 593.8 267.2 595.7 274.7C597.6 282.2 597.4 290.4 597.1 296.9C596.8 303.4 595.1 310.1 594 313.6C593 317.1 591.3 317.2 590.8 317.9" stroke="#1c1c1c" stroke-width="1.4"/>
<path d="M546.7 234.2C550.9 234.6 564.8 234.4 571.8 236.8C578.8 239.2 584 242.7 588.5 248.5C593 254.3 596.7 263.8 598.5 271.9C600.3 280 599.8 289.9 599.4 296.9C599 303.8 597.1 310.2 596 313.6C594.9 317.1 593.1 316.9 592.5 317.6" stroke="#1c1c1c" stroke-width="1.4"/>
<path d="M551.7 231.7C553.7 230 559.2 223.8 563.4 221.7C567.6 219.6 571.2 218.4 576.8 219.2C582.4 220 591.3 222.4 596.9 226.7C602.5 231 607 237.6 610.2 245.1C613.4 252.6 615.5 263.5 616.1 271.9C616.7 280.3 615.7 289.4 613.6 295.3C611.5 301.2 605.2 305.1 603.5 307" stroke="#1c1c1c" stroke-width="1.4"/>
<path d="M553.4 232.6C555.1 231.2 559.9 225.9 563.5 224C567.1 222.1 569.8 220.2 575.1 220.9C580.4 221.6 589.6 224.1 595.2 228.4C600.8 232.7 605.4 239.6 608.6 246.8C611.8 254.1 613.9 263.8 614.4 271.9C614.9 280 614 289.6 611.9 295.3C609.8 301 603.6 304.3 601.9 306.1" stroke="#1c1c1c" stroke-width="1.4"/>
<path d="M574.3 216.7C576.7 215.7 583.4 211.4 588.5 210.8C593.6 210.2 599.9 210.2 605.2 213.4C610.5 216.6 615.8 223.1 620.3 230C624.8 236.9 629.6 247.3 632 255.1C634.4 262.9 634.9 270.5 634.5 276.9C634.1 283.3 631.6 289.9 629.4 293.6C627.1 297.4 622.4 298.4 621 299.4" stroke="#1c1c1c" stroke-width="1.4"/>
<path d="M591.8 220.9C594.3 221.9 602.1 222.9 606.9 226.7C611.6 230.4 616.7 237.3 620.3 243.4C623.9 249.5 626.8 257.4 628.6 263.5C630.4 269.6 631.4 274.9 631.1 280.2C630.8 285.5 628.7 292.4 627 295.3C625.3 298.2 622 297.4 621 297.8" stroke="#1c1c1c" stroke-width="1.4"/>
<ellipse cx="543.1" cy="254.3" rx="11.3" ry="6" stroke="#1c1c1c" stroke-width="1.4"/>
<path d="M494.7 271.4C493.2 271.3 487.7 270.8 485.5 270.9C483.3 271 483.3 271.2 481.6 272C479.9 272.8 476.8 274.1 475.1 275.9C473.4 277.6 472.2 279.9 471.2 282.5C470.2 285.1 469.5 288.6 469.2 291.6C468.9 294.7 469.3 298.5 469.6 300.8C469.9 303.1 470.5 304.4 471.2 305.4C471.9 306.4 472.5 307.1 473.8 306.7C475.1 306.2 477.1 304 479 302.7C480.9 301.4 483.1 299.7 485.5 298.8C487.9 297.9 491.2 297.3 493.4 297.5C495.6 297.7 497.1 298.7 498.6 300.1C500.1 301.5 501.1 303.5 502.6 306C504.1 308.5 505.9 312.2 507.8 315.2C509.8 318.1 512.3 321.2 514.3 323.7C516.3 326.2 519.8 328.3 519.6 330.2C519.4 332.1 515.4 333.2 513 334.8C510.6 336.4 507.2 338.2 505.2 340C503.2 341.8 501.6 343.4 501.2 345.3C500.8 347.2 501.3 349.7 502.6 351.2C503.9 352.7 506.3 353.9 509.1 354.4C511.9 354.9 516.6 354.9 519.6 354.4C522.6 353.9 525.2 352.9 527.4 351.2C529.6 349.5 531.4 346.9 532.6 344C533.8 341.1 534.5 337.4 534.6 333.5C534.7 329.6 533.8 324.1 533.3 320.4C532.8 316.7 531 313.8 531.3 311.3C531.6 308.8 533.3 306.9 535.3 305.4C537.3 303.9 541 303.3 543.1 302.1C545.2 300.9 546.7 299.9 547.7 298.2C548.7 296.4 548.9 293.8 549 291.6C549.1 289.4 548.4 286.1 548.3 285" stroke="#1c1c1c" stroke-width="1.4"/>
<path d="M500.3 272C501.6 271.2 505.4 268.7 508.2 267.2C511 265.7 514.7 263.7 517.3 262.9C519.9 262.1 521.7 262.1 523.9 262.5C526.1 262.9 528.2 263.9 530.4 265.2C532.6 266.5 535 268.5 537 270.5C539 272.5 541.3 276.1 542.2 277.2" stroke="#1c1c1c" stroke-width="1.4"/>
<path d="M494.7 275.9C493.2 276 488.3 276.1 485.5 276.6C482.7 277.2 479.6 277.8 477.7 279.2C475.8 280.6 475.1 282.8 474.4 285.1C473.7 287.4 473.5 290.2 473.5 292.9C473.5 295.6 473.5 300.7 474.4 301.4C475.3 302.1 476.9 298.3 479 296.9C481.1 295.5 484.3 293.7 486.9 292.9C489.5 292.1 492.3 291.9 494.7 292.3C497.1 292.8 499.2 293.8 501.2 295.6C503.2 297.5 504.5 300.3 506.5 303.4C508.5 306.4 510.8 310.8 513 313.9C515.2 316.9 517.9 319.7 519.6 321.7C521.4 323.7 522.9 325.3 523.5 326" stroke="#1c1c1c" stroke-width="1.4"/>
<path d="M523.5 332.2C522 333.3 516.9 336.7 514.3 338.7C511.7 340.7 509.1 342.5 507.8 344C506.5 345.5 505.4 347 506.5 347.9C507.6 348.8 511.5 349.2 514.3 349.2C517.1 349.2 521.1 349.2 523.5 347.9C525.9 346.6 527.7 344.1 528.7 341.3C529.7 338.5 529.5 334.8 529.4 330.9C529.3 327 528.2 321.3 528.1 317.8C528 314.3 528 312 528.7 310C529.5 308 530.7 307.6 532.6 306C534.5 304.4 537.9 302.5 540 300.5C542.1 298.5 544.1 296.2 545 294C545.9 291.8 545.2 288.2 545.3 287" stroke="#1c1c1c" stroke-width="1.4"/>
<path d="M494.7 275.9C495.2 275.6 496.4 275 498 274.2C499.6 273.4 501.4 272.2 504.2 270.9C507 269.6 511.6 267.4 514.7 266.6C517.8 265.8 520.4 265.9 522.6 266.2C524.8 266.5 526.9 267.9 527.8 268.2" stroke="#1c1c1c" stroke-width="1.4"/>
<path d="M514.3 345.3L525.5 332.8L527.6 338.5" stroke="#1c1c1c" stroke-width="1.4"/>
<path d="M527.8 270.5C528 272.1 528 277.5 528.9 279.9C529.8 282.3 530.6 283.8 533 285.1C535.4 286.4 541.3 286.9 543.5 287.5C545.7 288.1 545.6 288.8 546 289" stroke="#1c1c1c" stroke-width="1.4"/>
<text x="262.8" y="62.8" font-size="9.7" font-weight="normal" fill="#3a3a3a">12</text>
<text x="84.2" y="144" font-size="9.7" font-weight="normal" fill="#3a3a3a">11</text>
<text x="85.1" y="470.1" font-size="9.7" font-weight="normal" fill="#3a3a3a">11</text>
<text x="84.5" y="710.7" font-size="9.7" font-weight="normal" fill="#3a3a3a">11</text>
<text x="278.5" y="787.9" font-size="9.7" font-weight="normal" fill="#3a3a3a">13</text>
<text x="233" y="822" font-size="9.7" font-weight="normal" fill="#3a3a3a">14</text>
<text x="233" y="847.2" font-size="9.7" font-weight="normal" fill="#3a3a3a">14</text>
<text x="592.8" y="118.6" font-size="9.7" font-weight="normal" fill="#3a3a3a">4</text>
<text x="592.8" y="170.8" font-size="9.7" font-weight="normal" fill="#3a3a3a">3</text>
<text x="363.7" y="297.7" font-size="9.7" font-weight="normal" fill="#3a3a3a">7</text>
<text x="389.1" y="301.8" font-size="9.7" font-weight="normal" fill="#3a3a3a">5</text>
<text x="363.6" y="360.2" font-size="9.7" font-weight="normal" fill="#3a3a3a">8</text>
<text x="396.6" y="412" font-size="9.7" font-weight="normal" fill="#3a3a3a">6</text>
<text x="361.7" y="456.9" font-size="9.7" font-weight="normal" fill="#3a3a3a">9</text>
<text x="480.9" y="370.3" font-size="9.7" font-weight="normal" fill="#3a3a3a">4</text>
<text x="583.9" y="363.1" font-size="9.7" font-weight="normal" fill="#3a3a3a">1</text>
<text x="612.4" y="343.1" font-size="9.7" font-weight="normal" fill="#3a3a3a">2</text>
<text x="598" y="452.1" font-size="9.7" font-weight="normal" fill="#3a3a3a">15</text>
<text x="597.8" y="467" font-size="9.7" font-weight="normal" fill="#3a3a3a">16</text>
<text x="83.6" y="518.9" font-size="9.7" font-weight="bold" fill="#333">10</text>
<text x="363.7" y="328" font-size="9.7" font-weight="bold" fill="#333">10</text>
<path d="M214.5 59.5L258.6 59.5" stroke="#2a2a2a" stroke-width="1.35"/>
<path d="M98.8 140.6L134 140.6" stroke="#2a2a2a" stroke-width="1.35"/>
<path d="M100 467.3L135.8 467.3" stroke="#2a2a2a" stroke-width="1.35"/>
<path d="M98.6 515.7L134 515.7" stroke="#2a2a2a" stroke-width="1.35"/>
<path d="M99.2 707L134.6 707" stroke="#2a2a2a" stroke-width="1.35"/>
<path d="M222.9 785.5L275.2 785.5" stroke="#2a2a2a" stroke-width="1.35"/>
<path d="M199.7 819.8L228.4 819.8" stroke="#2a2a2a" stroke-width="1.35"/>
<path d="M199.7 844.9L228.4 844.9" stroke="#2a2a2a" stroke-width="1.35"/>
<path d="M556.7 115.6L589.8 115.6" stroke="#2a2a2a" stroke-width="1.35"/>
<path d="M555 168.3L589.8 168.3" stroke="#2a2a2a" stroke-width="1.35"/>
<path d="M333.2 295L361.8 295" stroke="#2a2a2a" stroke-width="1.35"/>
<path d="M396.7 298.6L413.3 298.6" stroke="#2a2a2a" stroke-width="1.35"/>
<path d="M340.2 340.7L361.8 327.1" stroke="#2a2a2a" stroke-width="1.35"/>
<path d="M340.2 370.3L361.8 359.3" stroke="#2a2a2a" stroke-width="1.35"/>
<path d="M399.5 383.5L399.5 400.7" stroke="#2a2a2a" stroke-width="1.35"/>
<path d="M339.8 454.5L357.8 454.5" stroke="#2a2a2a" stroke-width="1.35"/>
<path d="M492.8 368.5L527.4 368.5" stroke="#2a2a2a" stroke-width="1.35"/>
<path d="M587.4 318L587.4 352.2" stroke="#2a2a2a" stroke-width="1.35"/>
<path d="M587.4 368.5L587.4 427.7" stroke="#2a2a2a" stroke-width="1.35"/>
<path d="M614.7 323.4L614.7 333.6" stroke="#2a2a2a" stroke-width="1.35"/>
<path d="M614.7 348.5L614.7 409.4" stroke="#2a2a2a" stroke-width="1.35"/>
<path d="M603 309.4L603 329.8" stroke="#2a2a2a" stroke-width="1.35"/>
<path d="M624 300.8L624 317" stroke="#2a2a2a" stroke-width="1.35"/>
<path d="M603 329.8L624 317" stroke="#2a2a2a" stroke-width="1.35"/>
<path d="M587.4 427.7L614.7 410.5" stroke="#2a2a2a" stroke-width="1.35"/>
<path d="M603.4 418L603.4 441.5" stroke="#2a2a2a" stroke-width="1.35"/>
</svg>
</body></html>
